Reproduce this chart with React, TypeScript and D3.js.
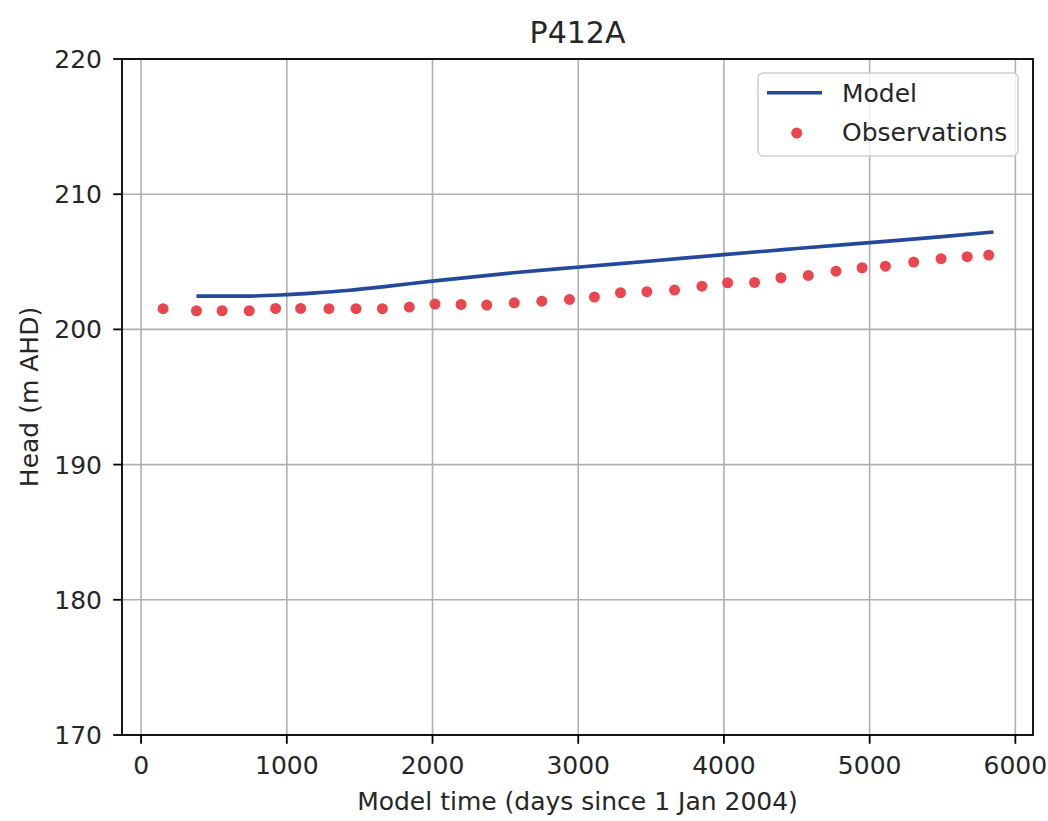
import React from "react";
import * as d3 from "d3";

const title = "P412A";
const xLabel = "Model time (days since 1 Jan 2004)";
const yLabel = "Head (m AHD)";

const xTicks = [0, 1000, 2000, 3000, 4000, 5000, 6000];
const yTicks = [170, 180, 190, 200, 210, 220];

const modelDays = [380, 700, 955, 1200, 1413, 1700, 1997, 2555, 2992, 3500, 4000, 4500, 5000, 5500, 5850];
const modelHead = [202.46, 202.46, 202.54, 202.7, 202.88, 203.2, 203.57, 204.19, 204.6, 205.06, 205.53, 205.98, 206.42, 206.86, 207.2];

const obsDays = [151, 380, 556, 742, 923, 1095, 1289, 1475, 1656, 1841, 2017, 2196, 2372, 2561, 2750, 2940, 3111, 3290, 3471, 3661, 3849, 4025, 4210, 4391, 4579, 4769, 4948, 5108, 5302, 5490, 5669, 5817];
const obsHead = [201.53, 201.38, 201.38, 201.38, 201.55, 201.55, 201.53, 201.53, 201.53, 201.65, 201.87, 201.85, 201.8, 201.97, 202.09, 202.22, 202.39, 202.71, 202.79, 202.91, 203.2, 203.45, 203.47, 203.82, 203.99, 204.31, 204.56, 204.68, 204.98, 205.23, 205.38, 205.5];

const W = 1048;
const H = 821;
const left = 122;
const right = 1033;
const top = 59;
const bottom = 735;

const FONT = "DejaVu Sans, sans-serif";
const MODEL_COLOR = "#24489c";
const OBS_COLOR = "#e9464f";

export default function App() {
  const x = d3.scaleLinear().domain([-131, 6121]).range([left, right]);
  const y = d3.scaleLinear().domain([170, 220]).range([bottom, top]);

  const modelPts: [number, number][] = modelDays.map((d, i) => [d, modelHead[i]]);
  const line = d3
    .line<[number, number]>()
    .x((d) => x(d[0]))
    .y((d) => y(d[1]))
    .curve(d3.curveMonotoneX);

  return (
    <svg
      width={W}
      height={H}
      style={{ position: "absolute", left: 0, top: 0, background: "#fff" }}
      fontFamily={FONT}
    >
      <rect x={0} y={0} width={W} height={H} fill="#fff" />
      {/* grid */}
      {xTicks.map((t) => (
        <line key={"gx" + t} x1={x(t)} x2={x(t)} y1={top} y2={bottom} stroke="#b0b0b0" strokeWidth={1.6} />
      ))}
      {yTicks.map((t) => (
        <line key={"gy" + t} x1={left} x2={right} y1={y(t)} y2={y(t)} stroke="#b0b0b0" strokeWidth={1.6} />
      ))}

      {/* model line */}
      <path d={line(modelPts) || ""} fill="none" stroke={MODEL_COLOR} strokeWidth={3.6} />

      {/* observations */}
      {obsDays.map((d, i) => (
        <circle key={"o" + i} cx={x(d)} cy={y(obsHead[i])} r={5.5} fill={OBS_COLOR} />
      ))}

      {/* spines */}
      <rect x={left} y={top} width={right - left} height={bottom - top} fill="none" stroke="#000" strokeWidth={1.8} />

      {/* x ticks */}
      {xTicks.map((t) => (
        <g key={"xt" + t}>
          <line x1={x(t)} x2={x(t)} y1={bottom} y2={bottom + 8.8} stroke="#000" strokeWidth={1.8} />
          <text x={x(t)} y={774} textAnchor="middle" fontSize={25} fill="#262626">
            {t}
          </text>
        </g>
      ))}
      {/* y ticks */}
      {yTicks.map((t) => (
        <g key={"yt" + t}>
          <line x1={left - 8.8} x2={left} y1={y(t)} y2={y(t)} stroke="#000" strokeWidth={1.8} />
          <text x={102} y={y(t) + 9} textAnchor="end" fontSize={25} fill="#262626">
            {t}
          </text>
        </g>
      ))}

      {/* labels */}
      <text x={(left + right) / 2} y={43} textAnchor="middle" fontSize={30} fill="#262626">
        {title}
      </text>
      <text x={(left + right) / 2} y={810} textAnchor="middle" fontSize={25} fill="#262626">
        {xLabel}
      </text>
      <text
        transform={`translate(38, ${(top + bottom) / 2}) rotate(-90)`}
        textAnchor="middle"
        fontSize={25}
        fill="#262626"
      >
        {yLabel}
      </text>

      {/* legend */}
      <g>
        <rect x={758} y={73} width={260} height={83} rx={5} fill="#fff" fillOpacity={0.8} stroke="#d0d0d0" strokeWidth={1.6} />
        <line x1={767} x2={822} y1={92.7} y2={92.7} stroke={MODEL_COLOR} strokeWidth={3.6} />
        <text x={842} y={102} fontSize={25} fill="#262626">Model</text>
        <circle cx={796.7} cy={133} r={5.5} fill={OBS_COLOR} />
        <text x={842} y={141} fontSize={25} fill="#262626">Observations</text>
      </g>
    </svg>
  );
}
